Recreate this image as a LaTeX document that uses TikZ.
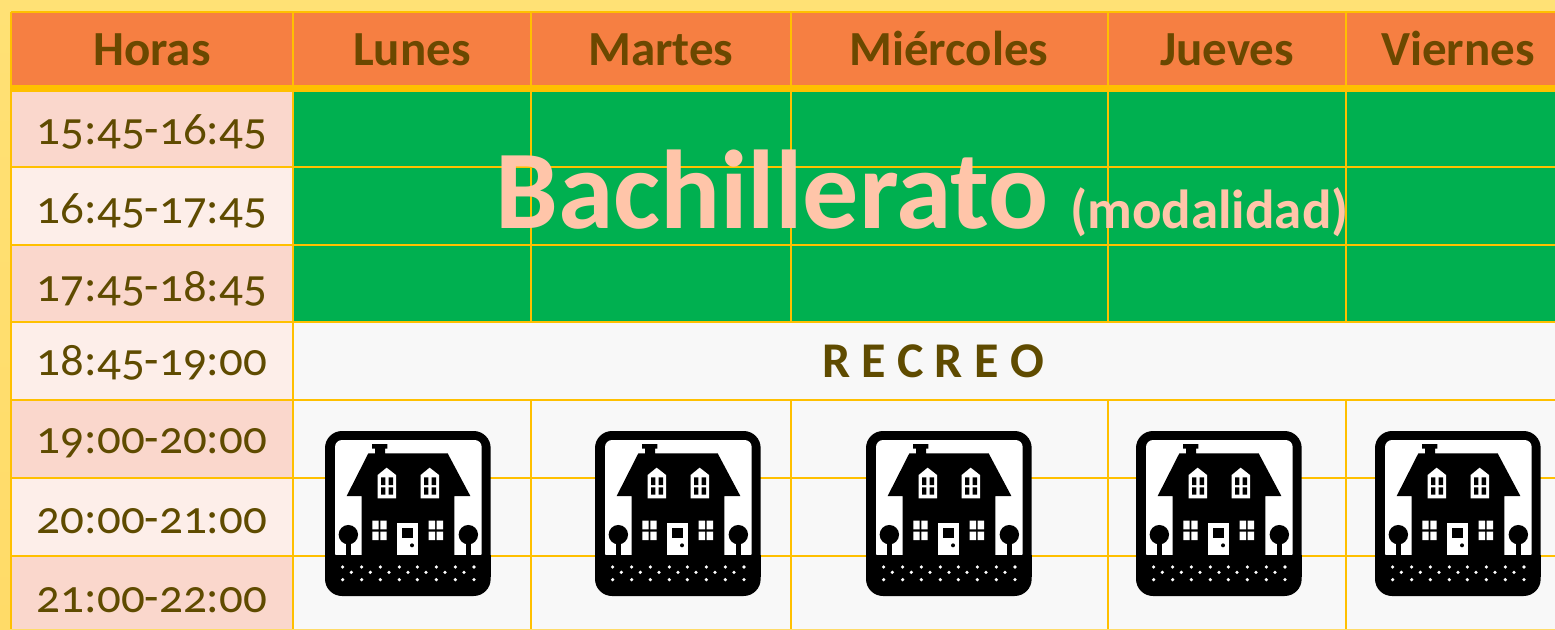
\documentclass[tikz,border=0pt]{standalone}
\usepackage{fontspec}
\setmainfont{Carlito}[Numbers=OldStyle]
\definecolor{gridc}{HTML}{FFC000}
\definecolor{headc}{HTML}{F67F42}
\definecolor{headt}{HTML}{6B4800}
\definecolor{timet}{HTML}{5F4B00}
\definecolor{greenc}{HTML}{00B050}
\definecolor{peach}{HTML}{FFC5A9}
\definecolor{rowa}{HTML}{FAD7CC}
\definecolor{rowb}{HTML}{FDEEE9}
\definecolor{paper}{HTML}{F8F8F8}
\definecolor{bandtop}{HTML}{FFE175}
\definecolor{bandbot}{HTML}{FFDB68}
\tikzset{
  gridline/.style={draw=gridc,line width=2.8pt},
  headlabel/.style={text=headt,font=\fontsize{49}{49}\selectfont\bfseries,inner sep=0pt,anchor=base},
  timelabel/.style={text=timet,font=\fontsize{47}{47}\selectfont,inner sep=0pt,anchor=center},
  house/.pic={
    \begin{scope}[x=0.33333pt,y=-0.33333pt,shift={(-45,-33)}]
      \fill[black,rounded corners=17pt] (45,33) rectangle (542,528);
      \fill[white,rounded corners=7pt] (75,420) -- (75,60) -- (515,60) -- (515,420) -- cycle;
      \fill[black] (45,405) rectangle (542,470);
      \fill[black] (110,228) -- (175,100) -- (195,100) -- (195,86) -- (186,86) -- (186,72) -- (232,72) -- (232,86) -- (225,86) -- (225,100) -- (413,100) -- (481,228) -- (433,228) -- (433,406) -- (155,406) -- (155,228) -- cycle;
      \foreach \dx in {0,129}{
        \begin{scope}[xshift=\dx*0.33333pt]
          \fill[white] (203,235) -- (203,165) -- (230,143) -- (258,165) -- (258,235) -- cycle;
          \fill[black] (213,172) rectangle (226,195) (236,172) rectangle (249,195) (213,202) rectangle (226,224) (236,202) rectangle (249,224);
        \end{scope}
      }
      \foreach \dx in {0,169}{
        \begin{scope}[xshift=\dx*0.33333pt]
          \fill[white] (187,302) rectangle (206,328) (211,302) rectangle (230,328) (187,335) rectangle (206,360) (211,335) rectangle (230,360);
        \end{scope}
      }
      \fill[white] (262,310) rectangle (323,404);
      \fill[black] (275,323) rectangle (309,355);
      \fill[black] (306,376) circle[radius=2pt];
      \foreach \tx in {115,475}{
        \fill[black] (\tx,344) circle[radius=9.7pt];
        \fill[black] (\tx-7,365) rectangle (\tx+7,406);
      }
      \foreach \px in {98,155,211,268,322,379,436,492}{
        \fill[white] (\px,441) circle[radius=1.8pt];
        \fill[white] (\px,479) circle[radius=1.8pt];
      }
      \foreach \px in {124,181,237,294,348,405,462}{
        \fill[white] (\px,457) circle[radius=1.8pt];
      }
    \end{scope}
  }
}
\begin{document}
\begin{tikzpicture}[x=1pt,y=-1pt]
\useasboundingbox (0,0) rectangle (1555,629);
\shade[top color=bandtop,bottom color=bandbot] (0,0) rectangle (1555,629);
% cell fills
\fill[headc] (11,12) rectangle (1555,88);
\fill[rowa] (11,88) rectangle (293,167);
\fill[rowb] (11,167) rectangle (293,245);
\fill[rowa] (11,245) rectangle (293,322);
\fill[rowb] (11,322) rectangle (293,400);
\fill[rowa] (11,400) rectangle (293,478);
\fill[rowb] (11,478) rectangle (293,556);
\fill[rowa] (11,556) rectangle (293,629);
\fill[greenc] (293,88) rectangle (1555,322);
\fill[paper] (293,322) rectangle (1555,629);
% grid
\foreach \yy in {12,167,245,322,400,478,556}{\draw[gridline] (11,\yy) -- (1555,\yy);}
\draw[draw=gridc,line width=7pt] (11,88.5) -- (1555,88.5);
\draw[gridline] (11,12) -- (11,629);
\draw[gridline] (293,12) -- (293,629);
\foreach \xx in {531,791,1108,1346}{
  \draw[gridline] (\xx,12) -- (\xx,322);
  \draw[gridline] (\xx,400) -- (\xx,629);
}
% header
\node[headlabel] (hHoras) at (152,65) {Horas};
\node[headlabel] (hLunes) at (412,65) {Lunes};
\node[headlabel] (hMartes) at (661,65) {Martes};
\node[headlabel] (hMier) at (949,65) {Miércoles};
\node[headlabel] (hJueves) at (1227,65) {Jueves};
\node[headlabel] (hViernes) at (1458,65) {Viernes};
% times
\node[timelabel] (t1) at (152,132) {15:45-16:45};
\node[timelabel] (t2) at (152,211) {16:45-17:45};
\node[timelabel] (t3) at (152,289) {17:45-18:45};
\node[timelabel] (t4) at (152,363) {18:45-19:00};
\node[timelabel] (t5) at (152,443) {19:00-20:00};
\node[timelabel] (t6) at (152,521) {20:00-21:00};
\node[timelabel] (t7) at (152,600) {21:00-22:00};
% merged labels
\node[text=peach,font=\fontsize{112}{112}\selectfont\bfseries,inner sep=0pt,anchor=base west] (bach) at (495,228) {Bachillerato};
\node[text=peach,font=\fontsize{55}{55}\selectfont\bfseries,inner sep=0pt,anchor=base west] (moda) at (1070,228) {(modalidad)};
\node[text=timet,font=\fontsize{50}{50}\selectfont\bfseries,inner sep=0pt] (rec) at (933,361) {R E C R E O};
% houses
\pic at (325,431) {house};
\pic at (595,431) {house};
\pic at (866,431) {house};
\pic at (1136,431) {house};
\pic at (1375,431) {house};
\end{tikzpicture}
\end{document}
